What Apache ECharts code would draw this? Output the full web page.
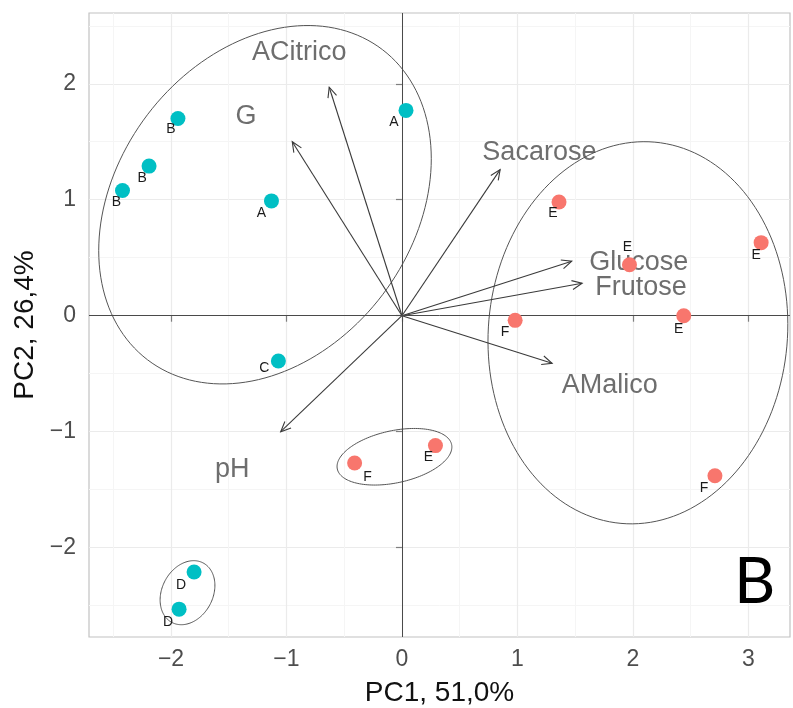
<!DOCTYPE html>
<html>
<head>
<meta charset="utf-8">
<script src="https://cdn.jsdelivr.net/npm/echarts@6/dist/echarts.min.js"></script>
<style>
  html, body { margin: 0; padding: 0; background: #ffffff; }
  #chart { width: 793px; height: 708px; }
</style>
</head>
<body>
<div id="chart"></div>
<script>
// ---- Sample scores (PC1 / PC2) ----
const tealLabels = ['B', 'B', 'B', 'A', 'A', 'C', 'D', 'D'];
const tealPC1 = [-1.94, -2.19, -2.42, -1.13, 0.035, -1.07, -1.80, -1.93];
const tealPC2 = [1.70, 1.29, 1.08, 0.99, 1.77, -0.39, -2.21, -2.53];

const redLabels = ['F', 'E', 'E', 'E', 'E', 'E', 'F', 'F'];
const redPC1 = [-0.41, 0.29, 1.36, 1.97, 3.11, 2.44, 0.98, 2.71];
const redPC2 = [-1.27, -1.12, 0.98, 0.44, 0.63, 0.00, -0.04, -1.38];

// ---- Variable loadings (arrow tips) and their text anchors ----
const varNames = ['ACitrico', 'G', 'Sacarose', 'Glucose', 'Frutose', 'AMalico', 'pH'];
const varTipX = [-0.63, -0.95, 0.85, 1.47, 1.56, 1.30, -1.05];
const varTipY = [1.97, 1.50, 1.26, 0.47, 0.28, -0.41, -1.00];
const varTextX = [-0.89, -1.35, 1.19, 2.05, 2.07, 1.80, -1.47];
const varTextY = [2.27, 1.72, 1.41, 0.46, 0.24, -0.60, -1.33];

// ---- Group ellipses: centre, semi-axes, rotation (degrees) ----
const ellCX = [-1.186, 2.043, -0.065, -1.857];
const ellCY = [0.957, -0.147, -1.216, -2.388];
const ellA = [1.68, 1.65, 0.506, 0.29];
const ellB = [1.28, 1.295, 0.225, 0.22];
const ellRot = [52.7, 84.9, 12, 62];

// ---- Axes ----
const xTicks = [-2, -1, 0, 1, 2, 3];
const yTicks = [-2, -1, 0, 1, 2];
const xMinor = [-2.5, -1.5, -0.5, 0.5, 1.5, 2.5];
const yMinor = [-2.5, -1.5, -0.5, 0.5, 1.5, 2.5];
const xRange = [-2.71, 3.36];
const yRange = [-2.77, 2.61];

// label nudges in pixels for the sample letters
const tealNudge = [[-7, 11], [-7, 12], [-6, 12], [-10, 12], [-12, 12], [-14, 7], [-13, 13], [-11, 13]];
const redNudge = [[13, 14], [-7, 12], [-6, 11], [-2, -18], [-5, 12], [-5, 13], [-10, 12], [-11, 12]];

const FONT = '"Liberation Sans", Arial, Helvetica, sans-serif';
const fmtTick = v => String(v).replace('-', '\u2212');

function samplePoints(xs, ys, labels, nudges) {
  return xs.map((x, i) => ({
    value: [x, ys[i]],
    name: labels[i],
    label: { offset: nudges[i] }
  }));
}

function ellipseItem(params, api) {
  const cx = api.value(0), cy = api.value(1);
  const a = api.value(2), b = api.value(3);
  const t = api.value(4) * Math.PI / 180;
  const pts = [];
  const n = 160;
  for (let i = 0; i <= n; i++) {
    const s = i / n * 2 * Math.PI;
    const x = cx + a * Math.cos(t) * Math.cos(s) - b * Math.sin(t) * Math.sin(s);
    const y = cy + a * Math.sin(t) * Math.cos(s) + b * Math.cos(t) * Math.sin(s);
    pts.push(api.coord([x, y]));
  }
  return {
    type: 'polyline',
    shape: { points: pts },
    style: { stroke: '#555555', lineWidth: 1, fill: null }
  };
}

function arrowItem(params, api) {
  const o = api.coord([0, 0]);
  const p = api.coord([api.value(0), api.value(1)]);
  const ang = Math.atan2(p[1] - o[1], p[0] - o[0]);
  const L = 11, w = Math.PI / 7.5;
  const h1 = [p[0] - L * Math.cos(ang - w), p[1] - L * Math.sin(ang - w)];
  const h2 = [p[0] - L * Math.cos(ang + w), p[1] - L * Math.sin(ang + w)];
  const style = { stroke: '#3a3a3a', lineWidth: 1.1, fill: null };
  return {
    type: 'group',
    children: [
      { type: 'line', shape: { x1: o[0], y1: o[1], x2: p[0], y2: p[1] }, style: style },
      { type: 'polyline', shape: { points: [h1, p, h2] }, style: style }
    ]
  };
}

const chart = echarts.init(document.getElementById('chart'), null, { renderer: 'canvas' });

const option = {
  animation: false,
  backgroundColor: '#ffffff',
  textStyle: { fontFamily: FONT },
  grid: {
    left: 89, top: 13, right: 3, bottom: 71,
    show: true, borderColor: '#c2c2c2', borderWidth: 1.2, backgroundColor: '#ffffff',
    outerBoundsMode: 'none'
  },
  xAxis: [
    {
      type: 'value', min: xRange[0], max: xRange[1],
      axisLine: { show: false },
      axisTick: { show: true, customValues: xTicks, length: 6, lineStyle: { color: '#7f7f7f', width: 1.2 } },
      axisLabel: { customValues: xTicks, formatter: fmtTick, fontSize: 23, color: '#4d4d4d', margin: 11, fontFamily: FONT },
      splitLine: { show: true, lineStyle: { color: '#ebebeb', width: 1.2 } },
      name: 'PC1, 51,0%', nameLocation: 'middle', nameGap: 42,
      nameTextStyle: { fontSize: 28, color: '#111111', fontFamily: FONT }
    },
    {
      type: 'value', min: xRange[0], max: xRange[1], position: 'top',
      axisLine: { show: false },
      axisTick: { show: false, customValues: xMinor },
      axisLabel: { show: false, customValues: xMinor },
      splitLine: { show: true, lineStyle: { color: '#f5f5f5', width: 1 } }
    }
  ],
  yAxis: [
    {
      type: 'value', min: yRange[0], max: yRange[1],
      axisLine: { show: false },
      axisTick: { show: true, customValues: yTicks, length: 6, lineStyle: { color: '#7f7f7f', width: 1.2 } },
      axisLabel: { customValues: yTicks, formatter: fmtTick, fontSize: 23, color: '#4d4d4d', margin: 13, fontFamily: FONT },
      splitLine: { show: true, lineStyle: { color: '#ebebeb', width: 1.2 } },
      name: 'PC2, 26,4%', nameLocation: 'middle', nameGap: 50, nameRotate: 90,
      nameTextStyle: { fontSize: 28, color: '#111111', fontFamily: FONT }
    },
    {
      type: 'value', min: yRange[0], max: yRange[1], position: 'right',
      axisLine: { show: false },
      axisTick: { show: false, customValues: yMinor },
      axisLabel: { show: false, customValues: yMinor },
      splitLine: { show: true, lineStyle: { color: '#f5f5f5', width: 1 } }
    }
  ],
  series: [
    {
      name: 'ellipses', type: 'custom', silent: true, clip: true, z: 2,
      xAxisIndex: 0, yAxisIndex: 0,
      renderItem: ellipseItem,
      encode: { x: 0, y: 1 },
      data: ellCX.map((cx, i) => [cx, ellCY[i], ellA[i], ellB[i], ellRot[i]]),
      markLine: {
        silent: true, symbol: 'none', animation: false,
        label: { show: false },
        lineStyle: { color: '#4a4a4a', width: 1, type: 'solid' },
        data: [{ xAxis: 0 }, { yAxis: 0 }]
      }
    },
    {
      name: 'loadings', type: 'custom', silent: true, clip: true, z: 3,
      xAxisIndex: 0, yAxisIndex: 0,
      renderItem: arrowItem,
      encode: { x: 0, y: 1 },
      data: varTipX.map((x, i) => [x, varTipY[i]])
    },
    {
      name: 'variable names', type: 'scatter', silent: true, z: 4,
      xAxisIndex: 0, yAxisIndex: 0,
      symbolSize: 0,
      label: {
        show: true, position: 'inside', formatter: '{b}',
        fontSize: 27, color: '#4a4a4a', fontFamily: FONT
      },
      data: varNames.map((n, i) => ({ value: [varTextX[i], varTextY[i]], name: n }))
    },
    {
      name: 'group 1', type: 'scatter', z: 5,
      xAxisIndex: 0, yAxisIndex: 0,
      symbol: 'circle', symbolSize: 15,
      itemStyle: { color: '#00BFC4', opacity: 1 },
      label: { show: true, position: 'inside', formatter: '{b}', fontSize: 14, color: '#1a1a1a', fontFamily: FONT },
      data: samplePoints(tealPC1, tealPC2, tealLabels, tealNudge)
    },
    {
      name: 'group 2', type: 'scatter', z: 5,
      xAxisIndex: 0, yAxisIndex: 0,
      symbol: 'circle', symbolSize: 15,
      itemStyle: { color: '#F8766D', opacity: 1 },
      label: { show: true, position: 'inside', formatter: '{b}', fontSize: 14, color: '#1a1a1a', fontFamily: FONT },
      data: samplePoints(redPC1, redPC2, redLabels, redNudge)
    }
  ],
  graphic: [
    {
      type: 'text', left: 734, top: 550, z: 10,
      style: { text: 'B', fontSize: 64, fontFamily: 'Lato, "Open Sans", sans-serif', fill: '#000000' }
    }
  ]
};

chart.setOption(option);
</script>
</body>
</html>
